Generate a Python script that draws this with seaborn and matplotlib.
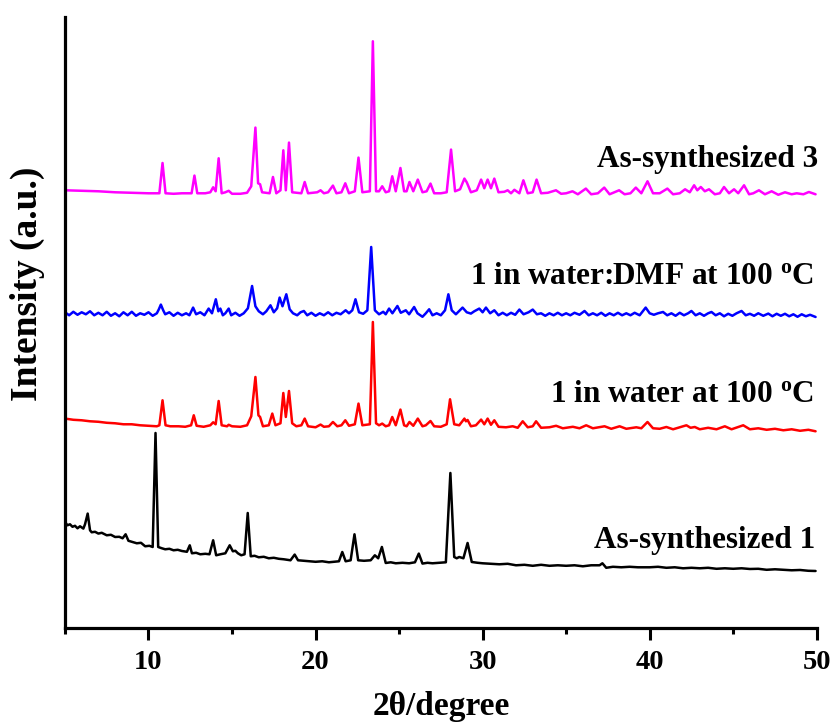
import matplotlib
matplotlib.use("Agg")
import matplotlib.pyplot as plt
from matplotlib.ticker import MultipleLocator
import seaborn as sns
import pandas as pd

# Powder XRD patterns, stacked with vertical offsets (2theta in degrees, intensity in a.u.)
as_synthesized_3 = [
    (5.0, 438), (6.0, 437.5), (7.0, 437), (8.0, 436), (9.0, 435.5), (10.0, 435),
    (10.65, 435), (10.84, 465.3), (11.02, 435), (11.5, 434.5), (12.0, 435),
    (12.58, 435), (12.75, 452.7), (12.92, 435), (13.4, 435), (13.7, 436),
    (13.87, 441), (14.02, 437), (14.2, 470), (14.38, 435), (14.6, 436),
    (14.8, 437.5), (15.0, 434.5), (15.5, 434.5), (15.9, 435.5), (16.15, 442),
    (16.4, 500.7), (16.56, 445), (16.68, 444), (16.8, 436), (17.25, 435),
    (17.45, 451.3), (17.65, 435), (17.9, 438), (18.07, 478), (18.22, 438),
    (18.41, 485.7), (18.6, 436), (19.15, 435), (19.35, 446.3), (19.55, 435),
    (20.1, 436), (20.3, 438), (20.5, 435), (20.75, 436), (21.04, 442.7),
    (21.25, 435), (21.55, 436), (21.78, 445), (22.0, 435), (22.35, 437),
    (22.57, 470.7), (22.8, 436), (23.25, 437), (23.43, 587), (23.62, 437),
    (23.8, 437), (23.99, 442), (24.2, 436), (24.4, 437), (24.59, 452),
    (24.8, 437), (25.08, 460.3), (25.3, 437), (25.45, 437), (25.62, 446.3),
    (25.85, 437), (26.12, 448.7), (26.4, 436), (26.65, 437), (26.88, 444.7),
    (27.1, 435), (27.5, 435), (27.85, 436), (28.11, 478.7), (28.35, 437),
    (28.65, 439), (28.91, 449.7), (29.05, 446), (29.3, 436), (29.65, 438),
    (29.91, 448.7), (30.1, 440), (30.3, 448.7), (30.5, 440), (30.7, 449.7),
    (30.95, 436), (31.3, 436.5), (31.5, 438), (31.7, 435), (31.9, 438.5),
    (32.2, 435), (32.44, 448), (32.7, 435), (33.0, 436), (33.23, 448.7),
    (33.5, 435), (33.9, 435.5), (34.39, 438), (34.7, 434.5), (35.0, 435),
    (35.38, 437), (35.7, 434), (36.18, 439.7), (36.5, 434), (36.9, 435),
    (37.28, 440.7), (37.6, 434), (38.17, 438), (38.5, 434), (38.85, 435),
    (39.17, 440.7), (39.5, 435), (39.87, 447), (40.2, 435), (40.6, 435),
    (41.06, 439.7), (41.4, 434), (41.8, 435), (42.12, 439), (42.4, 436),
    (42.66, 443), (42.85, 438), (43.06, 441.3), (43.3, 437), (43.55, 439),
    (43.9, 434), (44.2, 435), (44.45, 441.3), (44.75, 435), (45.05, 439),
    (45.3, 435), (45.65, 443), (45.95, 434), (46.2, 435), (46.54, 438),
    (46.9, 434), (47.3, 437), (47.7, 433.5), (48.1, 436), (48.5, 434),
    (48.8, 435), (49.2, 434), (49.53, 436.3), (49.93, 434),
]

water_dmf_100 = [
    (5.0, 316), (5.25, 313), (5.5, 316.5), (5.75, 313.5), (6.0, 316), (6.25, 314),
    (6.5, 317), (6.75, 313), (7.0, 315.5), (7.25, 313), (7.5, 316.5), (7.75, 312.5),
    (8.0, 315), (8.25, 312), (8.5, 316), (8.75, 313), (9.0, 316.5), (9.25, 312.5),
    (9.5, 315), (9.75, 313.5), (10.0, 316), (10.25, 312.5), (10.5, 315),
    (10.62, 319), (10.74, 323.7), (10.88, 318), (11.0, 314), (11.25, 316),
    (11.5, 312.5), (11.75, 315.5), (12.0, 313), (12.25, 315), (12.45, 313),
    (12.67, 320.7), (12.85, 314), (13.1, 316), (13.35, 313), (13.6, 319.7),
    (13.8, 315), (14.03, 329), (14.18, 317), (14.3, 319.7), (14.45, 313),
    (14.6, 315), (14.8, 319.7), (14.95, 313), (15.2, 315.5), (15.45, 312.5),
    (15.7, 315), (15.95, 320), (16.2, 342.3), (16.4, 322), (16.6, 317),
    (16.85, 314), (17.05, 317), (17.3, 323), (17.5, 316), (17.7, 320),
    (17.85, 330.7), (18.02, 322), (18.25, 334), (18.45, 319), (18.65, 315),
    (18.9, 313), (19.1, 316), (19.3, 317.3), (19.5, 313), (19.75, 315.5),
    (20.0, 312.5), (20.25, 315), (20.5, 313), (20.75, 316), (21.0, 313),
    (21.25, 315.5), (21.5, 314), (21.8, 318), (22.0, 315), (22.2, 318),
    (22.39, 329), (22.6, 316), (22.85, 314.5), (23.1, 318), (23.33, 381.3),
    (23.55, 318), (23.8, 314), (24.05, 316.5), (24.2, 314), (24.4, 319.7),
    (24.6, 315), (24.9, 322.3), (25.1, 315.5), (25.4, 318), (25.6, 314),
    (25.9, 321.3), (26.1, 315), (26.4, 311.5), (26.6, 315), (26.8, 319),
    (27.0, 313), (27.25, 315), (27.5, 313), (27.75, 318), (27.95, 334),
    (28.15, 318), (28.4, 314), (28.8, 320.7), (29.05, 316), (29.3, 314.7),
    (29.5, 317), (29.8, 319.7), (30.0, 316), (30.2, 320.7), (30.45, 315),
    (30.7, 318), (30.95, 313), (31.2, 315.5), (31.45, 313), (31.7, 315.5),
    (31.95, 313.5), (32.2, 318.7), (32.45, 314), (32.75, 316), (33.0, 318.7),
    (33.25, 314), (33.5, 315), (33.75, 312.5), (34.0, 315), (34.25, 313),
    (34.5, 315.5), (34.75, 313), (35.0, 315), (35.25, 313), (35.5, 315.5),
    (35.8, 313.5), (36.1, 317.3), (36.35, 313), (36.6, 315), (36.85, 313),
    (37.1, 315.5), (37.35, 312.5), (37.6, 315), (37.85, 313), (38.1, 315.5),
    (38.35, 313), (38.6, 315), (38.85, 313), (39.1, 315.5), (39.4, 313),
    (39.76, 320.7), (40.0, 315), (40.25, 313.5), (40.5, 315), (40.8, 316.3),
    (41.05, 313), (41.3, 315), (41.55, 312.5), (41.8, 315.5), (42.05, 313),
    (42.3, 315), (42.5, 317.3), (42.75, 313), (43.0, 315), (43.25, 312.5),
    (43.5, 315), (43.7, 316.3), (43.95, 313), (44.2, 315), (44.45, 312),
    (44.7, 314.5), (44.95, 312.5), (45.2, 315), (45.5, 317.3), (45.75, 313),
    (46.0, 314.5), (46.25, 312.5), (46.5, 315), (46.8, 312.5), (47.1, 314.7),
    (47.35, 312), (47.6, 314.5), (47.85, 312.5), (48.1, 314.5), (48.35, 312),
    (48.6, 314), (48.85, 311.5), (49.1, 314), (49.35, 312), (49.6, 313.5),
    (49.93, 311.3),
]

water_100 = [
    (5.0, 209.7), (5.5, 208.5), (6.0, 208), (6.5, 207), (7.0, 206.5), (7.5, 205.5),
    (8.0, 205), (8.5, 204), (9.0, 204), (9.5, 203), (10.0, 202.5), (10.5, 202),
    (10.65, 203), (10.84, 228), (11.02, 203), (11.3, 202), (11.8, 202),
    (12.2, 201.5), (12.55, 203), (12.71, 213), (12.88, 202.5), (13.3, 201.5),
    (13.7, 203), (13.87, 206), (14.02, 204), (14.2, 227.3), (14.38, 203),
    (14.7, 202), (14.8, 203.5), (15.0, 202), (15.5, 201.5), (15.9, 203),
    (16.15, 212), (16.4, 251.3), (16.58, 213), (16.68, 211.3), (16.85, 202),
    (17.2, 203), (17.41, 214.7), (17.6, 203), (17.9, 205), (18.07, 235.3),
    (18.22, 211.3), (18.41, 237.3), (18.6, 205), (18.85, 202), (19.15, 203),
    (19.35, 209.7), (19.55, 202), (20.0, 201), (20.3, 203.7), (20.5, 201.5),
    (20.8, 202), (21.04, 206.3), (21.3, 202), (21.55, 203), (21.78, 208),
    (22.0, 202.5), (22.35, 204), (22.57, 224.7), (22.8, 203), (23.25, 204),
    (23.43, 306.3), (23.62, 205), (23.8, 203), (23.99, 204.7), (24.2, 202),
    (24.4, 203), (24.59, 211.3), (24.8, 203), (25.08, 218.7), (25.3, 203),
    (25.45, 202), (25.62, 206.3), (25.85, 202.5), (26.12, 209.7), (26.4, 202),
    (26.6, 203), (26.88, 207.3), (27.1, 202), (27.5, 201.5), (27.85, 204),
    (28.05, 229), (28.3, 204), (28.6, 203), (28.91, 209.7), (29.0, 207),
    (29.1, 208.3), (29.3, 202), (29.6, 203), (29.91, 208.7), (30.1, 204),
    (30.3, 209.7), (30.5, 203.5), (30.7, 208), (30.95, 201.5), (31.4, 201),
    (31.8, 202), (32.1, 200.5), (32.4, 207), (32.7, 201), (33.0, 202),
    (33.2, 207), (33.5, 200.5), (34.0, 201), (34.4, 202.5), (34.8, 200),
    (35.4, 201.5), (35.8, 200), (36.2, 203), (36.6, 200), (37.3, 202),
    (37.7, 199.5), (38.2, 202), (38.6, 199.5), (39.2, 201), (39.5, 200),
    (39.87, 206.3), (40.2, 200), (40.6, 199.5), (41.0, 201.3), (41.4, 199),
    (42.2, 203), (42.45, 200.5), (42.7, 201.3), (43.0, 199), (43.5, 200.5),
    (44.0, 199), (44.5, 202), (44.9, 199), (45.6, 203), (46.0, 199),
    (46.5, 200), (47.0, 198.5), (47.5, 199.5), (48.0, 198), (48.5, 199),
    (49.0, 197.5), (49.5, 198.5), (49.93, 197),
]

as_synthesized_1 = [
    (5.0, 106.3), (5.15, 103), (5.3, 104), (5.45, 101.5), (5.6, 102.5),
    (5.75, 100), (5.9, 102), (6.1, 99.7), (6.2, 104), (6.36, 114.7), (6.5, 98),
    (6.6, 96), (6.8, 96.5), (7.0, 94.7), (7.2, 95.5), (7.5, 93), (7.75, 93.5),
    (8.0, 91.3), (8.25, 91.5), (8.45, 90), (8.63, 94), (8.8, 87.5), (9.0, 86.5),
    (9.3, 85), (9.55, 85.5), (9.8, 82), (10.05, 82.5), (10.25, 81.3),
    (10.42, 195.3), (10.58, 81.3), (10.8, 80), (11.0, 79), (11.25, 79.5),
    (11.5, 78), (11.75, 78.5), (12.0, 77.3), (12.3, 76.5), (12.47, 83),
    (12.6, 75), (12.85, 75.5), (13.1, 74), (13.4, 74.5), (13.65, 74),
    (13.87, 88), (14.05, 73), (14.3, 74), (14.6, 75), (14.86, 83), (15.05, 77),
    (15.2, 77.5), (15.35, 75), (15.55, 73), (15.75, 74), (15.94, 115.3),
    (16.12, 72), (16.35, 72.5), (16.6, 71), (16.9, 71.5), (17.2, 70),
    (17.5, 70.5), (17.8, 69.5), (18.1, 69), (18.5, 68), (18.75, 73.7),
    (18.95, 68), (19.3, 67.5), (19.6, 67), (20.0, 66.5), (20.4, 67),
    (20.8, 66), (21.1, 66.5), (21.4, 67), (21.6, 76.3), (21.8, 67),
    (22.1, 68), (22.33, 94), (22.55, 68), (22.9, 67.5), (23.3, 68),
    (23.55, 73), (23.75, 70), (23.97, 81.3), (24.2, 65.3), (24.5, 66),
    (24.8, 65), (25.2, 65.5), (25.6, 65), (25.95, 66), (26.18, 74.7),
    (26.4, 64.7), (26.7, 65.5), (27.0, 65), (27.4, 65.5), (27.8, 66),
    (28.07, 155.3), (28.3, 71.3), (28.45, 70), (28.6, 71.3), (28.85, 70),
    (29.1, 85.3), (29.35, 66.3), (29.7, 65.5), (30.0, 65), (30.5, 64.5),
    (31.0, 64), (31.5, 64.5), (32.0, 63), (32.5, 63.5), (33.0, 62.5),
    (33.5, 63.5), (34.0, 62.5), (34.5, 63), (35.0, 62.5), (35.5, 63),
    (36.0, 62), (36.5, 63), (37.0, 63), (37.17, 65), (37.4, 60.5),
    (37.8, 61.5), (38.3, 61), (38.8, 61.5), (39.3, 61), (40.0, 61),
    (40.5, 61.5), (41.0, 60.5), (41.5, 61), (42.0, 60), (42.5, 60.5),
    (43.0, 60), (43.5, 60.5), (44.0, 59.5), (44.5, 60), (45.0, 59.5),
    (45.5, 60), (46.0, 59.3), (46.5, 59.5), (47.0, 58.5), (47.5, 59),
    (48.0, 58.5), (48.5, 58), (49.0, 58.3), (49.5, 57.5), (49.93, 57.3),
]

series_names = ["As-synthesized 3", "1 in water:DMF at 100 $^{\\mathrm{o}}$C",
                "1 in water at 100 $^{\\mathrm{o}}$C", "As-synthesized 1"]
series_data = [as_synthesized_3, water_dmf_100, water_100, as_synthesized_1]
series_colors = ["#FF00FF", "#0000FF", "#FF0000", "#000000"]
# label anchor (right edge x in degrees, baseline y in a.u.)
label_pos = [(50.1, 461.3), (49.8, 344.7), (49.85, 226.3), (49.9, 80.7)]

x_ticks = [10, 20, 30, 40, 50]

sns.set_theme(style="ticks")
plt.rcParams["font.family"] = ["Liberation Serif", "DejaVu Serif"]
plt.rcParams["font.weight"] = "bold"
plt.rcParams["text.color"] = "black"
plt.rcParams["axes.labelcolor"] = "black"
plt.rcParams["xtick.color"] = "black"
plt.rcParams["mathtext.fontset"] = "custom"
plt.rcParams["mathtext.rm"] = "Liberation Serif:bold"
plt.rcParams["mathtext.bf"] = "Liberation Serif:bold"
plt.rcParams["mathtext.it"] = "Liberation Serif:bold"

fig = plt.figure(figsize=(8.34, 7.22), dpi=100)
ax = fig.add_axes([0.0779, 0.1298, 0.9014, 0.8471])

for name, data, color in zip(series_names, series_data, series_colors):
    df = pd.DataFrame(data, columns=["two_theta", "intensity"])
    sns.lineplot(data=df, x="two_theta", y="intensity", color=color,
                 linewidth=1.8, sort=False, estimator=None, ax=ax)

for name, (lx, ly) in zip(series_names, label_pos):
    ax.text(lx, ly, name, ha="right", va="baseline", fontsize=22.5,
            fontweight="bold", color="black")

ax.set_xlim(5, 50)
ax.set_ylim(0, 611.6)
ax.set_yticks([])
ax.xaxis.set_major_locator(MultipleLocator(10))
ax.xaxis.set_minor_locator(MultipleLocator(5))
ax.set_xticks(x_ticks)
ax.set_xticklabels([str(t) for t in x_ticks])

for side in ["top", "right"]:
    ax.spines[side].set_visible(False)
for side in ["left", "bottom"]:
    ax.spines[side].set_linewidth(2.3)
    ax.spines[side].set_color("black")

ax.tick_params(axis="x", which="major", direction="out", length=8.6, width=2.2,
               pad=7, labelsize=20.5, colors="black", labelcolor="black")
ax.tick_params(axis="x", which="minor", direction="out", length=4.3, width=2.2,
               colors="black", bottom=True)
for lab in ax.get_xticklabels():
    lab.set_fontweight("bold")

ax.set_xlabel("2θ/degree", fontsize=24, fontweight="bold", color="black")
ax.xaxis.set_label_coords(0.5, -0.102)
ax.set_ylabel("Intensity (a.u.)", fontsize=27, fontweight="bold", color="black")
ax.yaxis.set_label_coords(-0.027, 0.563)

fig.savefig("out.png", dpi=100)
